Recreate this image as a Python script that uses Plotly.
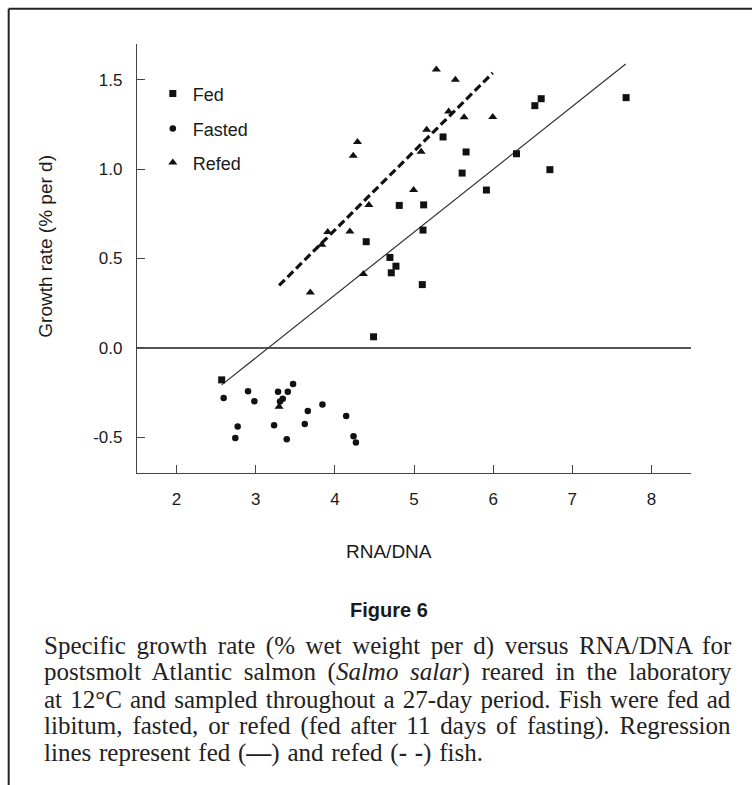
import plotly.graph_objects as go

# ---------------- data ----------------
fed_x = [6.607, 6.527, 7.68, 5.367, 5.658, 5.608, 6.295, 6.717, 5.915, 5.122,
         4.814, 5.114, 4.396, 4.696, 4.772, 4.713, 5.105, 4.489, 2.57]
fed_y = [1.394, 1.355, 1.40, 1.18, 1.096, 0.978, 1.086, 0.997, 0.883, 0.80,
         0.797, 0.659, 0.594, 0.506, 0.457, 0.42, 0.354, 0.062, -0.179]

fasted_x = [2.595, 2.903, 2.983, 3.282, 3.405, 3.472, 3.342, 3.307, 3.658,
            3.843, 4.143, 2.772, 2.742, 3.232, 3.62, 3.392, 4.236, 4.266]
fasted_y = [-0.28, -0.243, -0.299, -0.245, -0.246, -0.202, -0.284, -0.30, -0.353,
            -0.317, -0.381, -0.44, -0.504, -0.433, -0.426, -0.511, -0.494, -0.53]

refed_x = [4.286, 4.232, 5.16, 5.09, 4.995, 4.43, 4.19, 3.91, 3.835, 4.36,
           3.69, 3.295, 5.282, 5.523, 5.438, 5.633, 5.995]
refed_y = [1.152, 1.075, 1.22, 1.097, 0.883, 0.80, 0.651, 0.648, 0.577, 0.413,
           0.31, -0.329, 1.557, 1.50, 1.323, 1.29, 1.292]

fed_fit_x = [2.57, 7.675]
fed_fit_y = [-0.207, 1.588]
refed_fit_x = [3.295, 5.995]
refed_fit_y = [0.349, 1.538]

x_tickvals = [2, 3, 4, 5, 6, 7, 8]
y_tickvals = [-0.5, 0.0, 0.5, 1.0, 1.5]
y_ticktext = ["-0.5", "0.0", "0.5", "1.0", "1.5"]

series_names = ["Fed", "Fasted", "Refed"]

x_title = "RNA/DNA"
y_title = "Growth rate (% per d)"
fig_label = "Figure 6"
caption_lines = [
    "Specific growth rate (% wet weight per d) versus RNA/DNA for",
    "postsmolt Atlantic salmon (<i>Salmo salar</i>) reared in the laboratory",
    "at 12°C and sampled throughout a 27-day period. Fish were fed ad",
    "libitum, fasted, or refed (fed after 11 days of fasting). Regression",
    "lines represent fed (<b>—</b>) and refed (<b>- -</b>) fish.",
]
# extra space between words, to justify each caption line like the printed page
caption_word_spacing = [4.3, 5.4, 1.9, 3.7, 1.5]

# ---------------- layout geometry ----------------
W, H = 752, 785
L, R, T, B = 137.2, 690.7, 44.3, 472.7


def px_x(px):
    return (px - L) / (R - L)


def px_y(py):
    return (B - py) / (B - T)


SANS = "Liberation Sans, Arial, Helvetica, sans-serif"
SERIF = "Liberation Serif, Times New Roman, serif"
INK = "#1a1a1a"

fig = go.Figure()

fig.add_trace(go.Scatter(x=fed_fit_x, y=fed_fit_y, mode="lines",
                         line=dict(color="#333333", width=1.2),
                         showlegend=False, hoverinfo="skip"))
fig.add_trace(go.Scatter(x=refed_fit_x, y=refed_fit_y, mode="lines",
                         line=dict(color="#111111", width=3.2, dash="8px,4px"),
                         showlegend=False, hoverinfo="skip"))

fig.add_trace(go.Scatter(x=fed_x, y=fed_y, mode="markers", name=series_names[0],
                         marker=dict(symbol="square", size=7, color="#111111"),
                         legend="legend"))
fig.add_trace(go.Scatter(x=fasted_x, y=fasted_y, mode="markers", name=series_names[1],
                         marker=dict(symbol="circle", size=6.5, color="#111111"),
                         legend="legend2"))
fig.add_trace(go.Scatter(x=refed_x, y=refed_y, mode="markers", name=series_names[2],
                         marker=dict(symbol="triangle-up", size=8, color="#111111"),
                         legend="legend3"))


def legend_box(py):
    return dict(x=px_x(153), y=px_y(py), xanchor="left", yanchor="middle",
                bgcolor="rgba(0,0,0,0)", borderwidth=0, itemwidth=30,
                font=dict(family=SANS, size=18, color=INK))


axis_common = dict(showline=True, linecolor="#444444", linewidth=1.2,
                   ticks="inside", ticklen=8, tickwidth=1.2, tickcolor="#444444",
                   showgrid=False, mirror=False,
                   tickfont=dict(family=SANS, size=17, color=INK))

fig.update_layout(
    width=W, height=H,
    margin=dict(l=L, r=W - R, t=T, b=H - B, pad=0),
    paper_bgcolor="white", plot_bgcolor="white",
    xaxis=dict(range=[1.5, 8.5], tickvals=x_tickvals, zeroline=False,
               ticklabelstandoff=10, **axis_common),
    yaxis=dict(range=[-0.7, 1.7], tickvals=y_tickvals, ticktext=y_ticktext,
               zeroline=True, zerolinecolor="#555555", zerolinewidth=1.5,
               ticklabelstandoff=10, **axis_common),
    legend=legend_box(94),
    legend2=legend_box(129),
    legend3=legend_box(163),
    showlegend=True,
)

annotations = [
    dict(text=y_title, x=px_x(46), y=px_y(246), textangle=-90,
         font=dict(family=SANS, size=19, color=INK)),
    dict(text=x_title, x=px_x(389), y=px_y(551),
         font=dict(family=SANS, size=19, color=INK)),
    dict(text="<b>" + fig_label + "</b>", x=px_x(389), y=px_y(610),
         font=dict(family=SANS, size=20, color=INK)),
]
for i, line in enumerate(caption_lines):
    styled = '<span style="word-spacing:%.1fpx">%s</span>' % (caption_word_spacing[i], line)
    annotations.append(dict(text=styled, x=px_x(42), y=px_y(645 + 26.9 * i),
                            xanchor="left",
                            font=dict(family=SERIF, size=25, color="#222222")))

for a in annotations:
    a.update(xref="paper", yref="paper", showarrow=False)
    a.setdefault("xanchor", "center")
    a.setdefault("yanchor", "middle")
fig.update_layout(annotations=annotations)

# page frame (top and left rules of the figure box)
fig.add_shape(type="line", xref="paper", yref="paper",
              x0=px_x(9), x1=px_x(760), y0=px_y(9), y1=px_y(9),
              line=dict(color="#222222", width=2))
fig.add_shape(type="line", xref="paper", yref="paper",
              x0=px_x(9), x1=px_x(9), y0=px_y(9), y1=px_y(790),
              line=dict(color="#222222", width=2))

fig.write_html("out.html")
